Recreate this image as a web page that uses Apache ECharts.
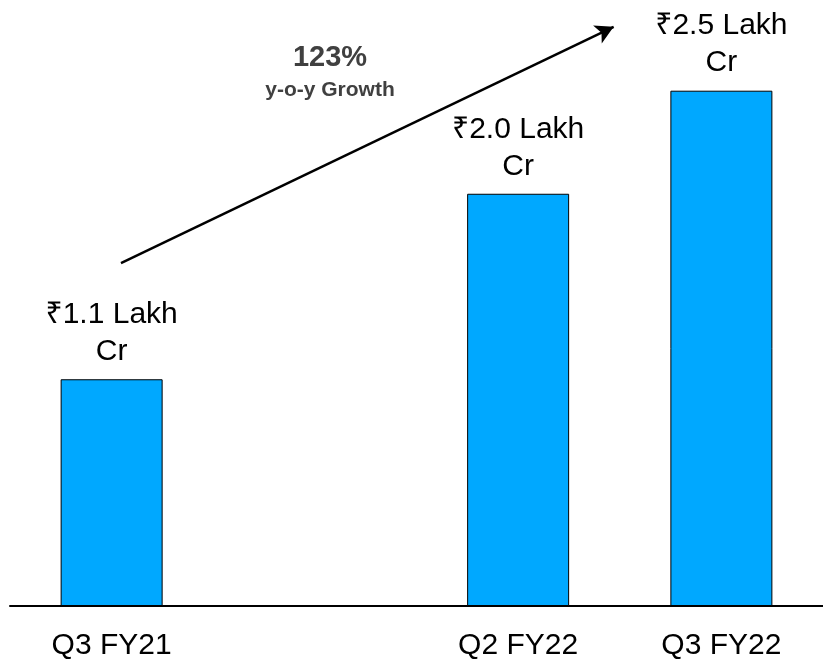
<!DOCTYPE html>
<html>
<head>
<meta charset="utf-8">
<script src="https://cdn.jsdelivr.net/npm/echarts@6/dist/echarts.min.js"></script>
<style>
  html, body { margin: 0; padding: 0; background: #fff; }
  #chart { width: 823px; height: 662px; }
</style>
</head>
<body>
<div id="chart"></div>
<script>
const QUARTERS = ["Q3 FY21", "Q2 FY22", "Q3 FY22"];
const SLOTS = [0, 2, 3]; // the second slot is left empty in the original
const VALUES = [1.1, 2.0, 2.5]; // ₹ Lakh Cr
const GROWTH = "123%";
const GROWTH_LABEL = "y-o-y Growth";
// arrow ends in data space (slot, value)
const ARROW_FROM = [0.046, 1.664];
const ARROW_TO = [2.47, 2.81];

const FONT = "'Liberation Sans', Arial, 'Noto Sans', sans-serif";
const BAR = "#00A8FF";

const chart = echarts.init(document.getElementById("chart"), null, { renderer: "canvas" });

chart.setOption({
  animation: false,
  grid: { left: 10, right: -7, top: 0, bottom: 56 },
  xAxis: {
    type: "value",
    min: -0.5,
    max: 3.5,
    splitLine: { show: false },
    axisLine: { show: true, onZero: false, lineStyle: { color: "#000", width: 2 } },
    axisTick: { show: false },
    axisLabel: {
      customValues: SLOTS,
      margin: 25,
      color: "#000",
      fontFamily: FONT,
      fontSize: 30,
      formatter: (v) => QUARTERS[SLOTS.indexOf(v)] ?? "",
    },
  },
  yAxis: { type: "value", min: 0, max: 2.94, show: false },
  graphic: [
    {
      type: "text",
      x: 330, y: 58,
      style: { text: GROWTH, fill: "#404040", font: `bold 29px ${FONT}`, align: "center", verticalAlign: "middle" },
    },
    {
      type: "text",
      x: 330, y: 90,
      style: { text: GROWTH_LABEL, fill: "#404040", font: `bold 21px ${FONT}`, align: "center", verticalAlign: "middle" },
    },
  ],
  series: [
    {
      type: "bar",
      data: SLOTS.map((s, i) => [s, VALUES[i]]),
      barWidth: 102,
      itemStyle: { color: BAR, borderColor: "#000", borderWidth: 1 },
      label: {
        show: true,
        position: "top",
        distance: 9,
        color: "#000",
        fontFamily: FONT,
        fontSize: 30,
        lineHeight: 37,
        align: "center",
        formatter: (p) => `₹${p.value[1].toFixed(1)} Lakh\nCr`,
      },
      markLine: {
        silent: true,
        symbol: ["none", "arrow"],
        symbolSize: [15, 18],
        lineStyle: { color: "#000", width: 2.5, type: "solid" },
        label: { show: false },
        data: [[{ coord: ARROW_FROM }, { coord: ARROW_TO }]],
      },
    },
  ],
});
</script>
</body>
</html>
